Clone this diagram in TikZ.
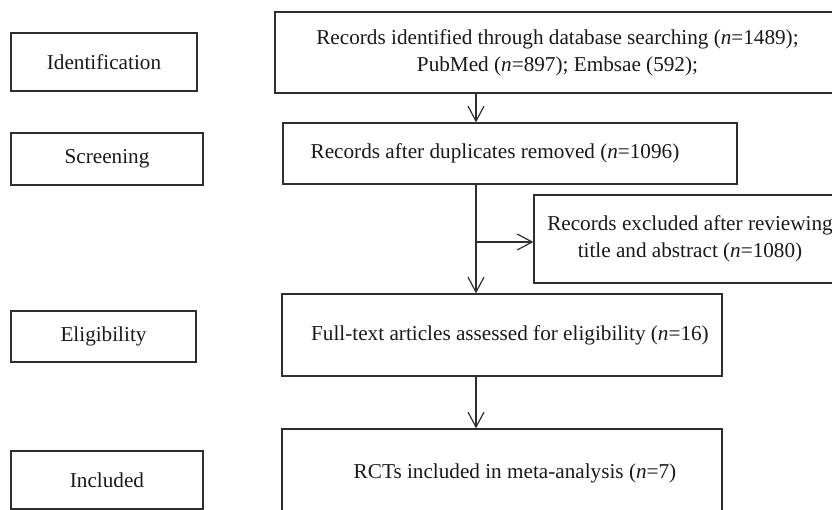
\documentclass[tikz,border=0pt]{standalone}
\usepackage{fontspec}
\setmainfont{Liberation Serif}
\usetikzlibrary{arrows.meta}
\tikzset{
  box/.style={draw=black!82, line width=1.2pt, inner sep=0pt, align=center, text=black!90,
    font=\fontsize{21.2}{27}\selectfont},
  arr/.style={draw=black!82, line width=1.2pt, -{Straight Barb[length=15pt,width=16pt,line width=1.2pt]}}
}
\begin{document}
\begin{tikzpicture}[x=1pt,y=-1pt]
\useasboundingbox (0,0) rectangle (832,510);
\clip (0,0) rectangle (832,510);
% stage labels
\node[box, minimum width=186pt, minimum height=58pt] (ident) at (104,62) {Identification};
\node[box, minimum width=192pt, minimum height=52pt] (screen) at (107,159) {Screening};
\node[box, minimum width=185pt, minimum height=51pt] (elig) at (103.5,336.5) {Eligibility};
\node[box, minimum width=192pt, minimum height=58pt] (incl) at (107,480) {Included};
% flow boxes
\node[box, minimum width=565pt, minimum height=81pt] (records) at (557.5,52.5)
  {Records identified through database searching (\textit{n}=1489);\\PubMed (\textit{n}=897); Embsae (592);};
\node[box, minimum width=454pt, minimum height=61pt] (after) at (510,153.5)
  {Records after duplicates removed (\textit{n}=1096)\hspace*{30pt}};
\node[box, minimum width=312pt, minimum height=88pt] (excl) at (690,239)
  {Records excluded after reviewing\\title and abstract (\textit{n}=1080)};
\node[box, minimum width=440pt, minimum height=82pt] (full) at (502,335)
  {\hspace*{16pt}Full-text articles assessed for eligibility (\textit{n}=16)};
\node[box, minimum width=440pt, minimum height=89pt] (rct) at (502,473.5)
  {\hspace*{26pt}RCTs included in meta-analysis (\textit{n}=7)};
% connectors
\coordinate (spine) at (476,0);
\draw[arr] (records.south -| spine) -- (after.north -| spine);
\draw[arr] (after.south -| spine) -- (full.north -| spine);
\draw[arr] ([yshift=-3pt]excl.west -| spine) -- ([yshift=-3pt]excl.west);
\draw[arr] (full.south -| spine) -- (rct.north -| spine);
\end{tikzpicture}
\end{document}
